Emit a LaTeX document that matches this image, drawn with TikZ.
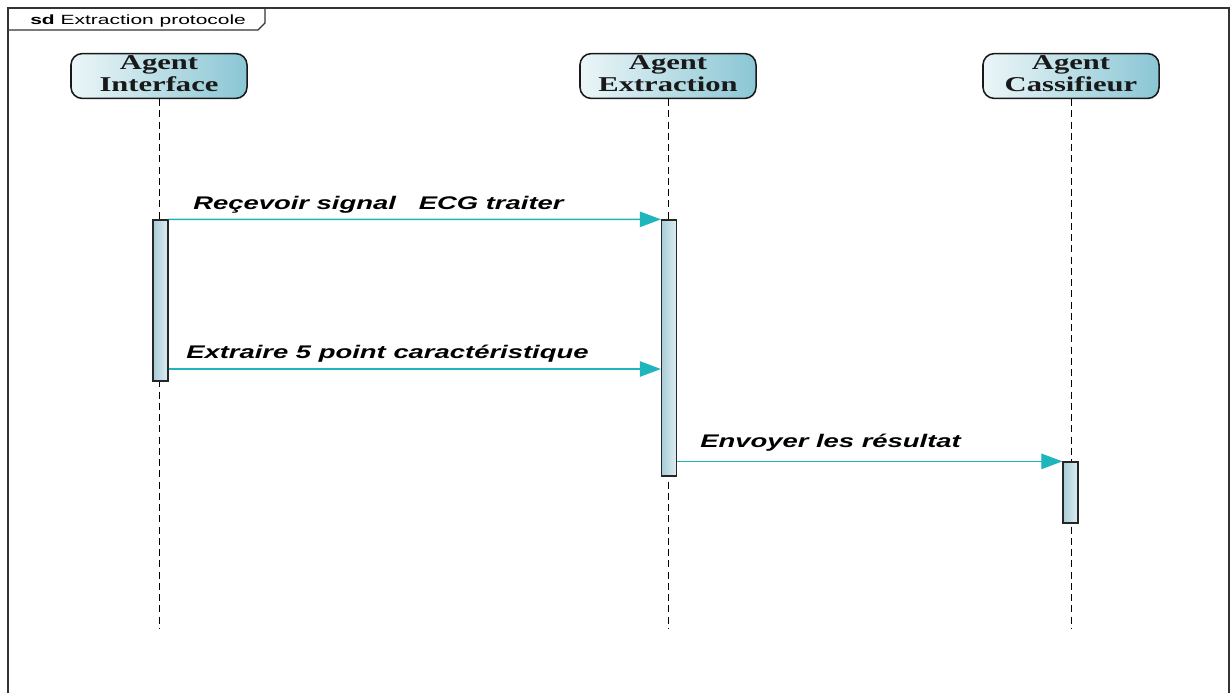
\documentclass[tikz,border=0pt]{standalone}
\usepackage{fontspec}
\setmainfont{Liberation Serif}
\setsansfont{Liberation Sans}
\usepackage{graphicx}
\usetikzlibrary{arrows.meta, positioning}
\definecolor{msgline}{RGB}{30,182,188}
\definecolor{headlight}{RGB}{236,246,248}
\definecolor{headblue}{RGB}{138,198,212}
\definecolor{barblue}{RGB}{168,204,214}
\definecolor{barlight}{RGB}{222,238,242}
\newcommand{\stretched}[2][1.5]{\scalebox{#1}[1]{#2}}

\begin{document}
\begin{tikzpicture}[x=0.025cm, y=-0.025cm, >={Triangle[length=15pt,width=11pt]},
  agent/.style={draw=black!90, line width=1.1pt, rounded corners=8pt,
    minimum width=4.4cm, minimum height=1.12cm, inner sep=0pt,
    left color=headlight, right color=headblue, text=black!90,
    font=\bfseries\fontsize{15}{15.5}\selectfont},
  activation/.style={draw=black!85, line width=0.9pt, minimum width=0.375cm,
    inner sep=0pt, left color=barblue, right color=barlight},
  lifeline/.style={dash pattern=on 5pt off 3pt, line width=0.7pt},
  msg/.style={->, draw=msgline, fill=msgline, line width=1pt},
  msglabel/.style={anchor=base west, inner sep=0pt,
    font=\sffamily\bfseries\itshape\fontsize{13}{15}\selectfont}]
  \fill[white] (0,0) rectangle (1232,693);
  \useasboundingbox (0,0) rectangle (1232,693);

  % frame and its tab
  \draw[line width=0.9pt, black!80] (8,693) -- (8,8) -- (1229,8) -- (1229,693);
  \draw[line width=0.8pt, black!80] (8,30) -- (258,30) -- (265,23) -- (265,8);
  \node[anchor=base west, inner sep=0pt, font=\sffamily\fontsize{9.5}{11}\selectfont]
    (title) at (30,24) {\stretched[1.57]{\textbf{sd} Extraction protocole}};

  % lifeline heads
  \node[agent] (iface) at (159,76) {\stretched[1.45]{\begin{tabular}{@{}c@{}}Agent\\Interface\end{tabular}}};
  \node[agent] (extr) at (668,76) {\stretched[1.45]{\begin{tabular}{@{}c@{}}Agent\\Extraction\end{tabular}}};
  \node[agent] (classif) at (1071,76) {\stretched[1.45]{\begin{tabular}{@{}c@{}}Agent\\Cassifieur\end{tabular}}};

  % lifelines
  \coordinate (bottom) at (0,628);
  \draw[lifeline] (iface.south) -- (iface.south |- bottom);
  \draw[lifeline] (extr.south) -- (extr.south |- bottom);
  \draw[lifeline] (classif.south) -- (classif.south |- bottom);

  % activation bars
  \node[activation, minimum height=4.025cm] (actI) at (160.5,300.5) {};
  \node[activation, minimum height=6.4cm] (actE) at (669,348) {};
  \node[activation, minimum height=1.525cm] (actC) at (1070.5,492.5) {};

  % messages
  \coordinate (m2) at (0,369);
  \draw[msg] (actI.north east) -- (actE.north west);
  \draw[msg] (actI.east |- m2) -- (actE.west |- m2);
  \draw[msg] (actE.east |- actC.north) -- (actC.north west);
  \node[msglabel] (recv) at (193,209) {\stretched{Reçevoir signal\ \ \ ECG traiter}};
  \node[msglabel] (points) at (186,358) {\stretched{Extraire 5 point caractéristique}};
  \node[msglabel] (send) at (700,447) {\stretched{Envoyer les résultat}};
\end{tikzpicture}
\end{document}
